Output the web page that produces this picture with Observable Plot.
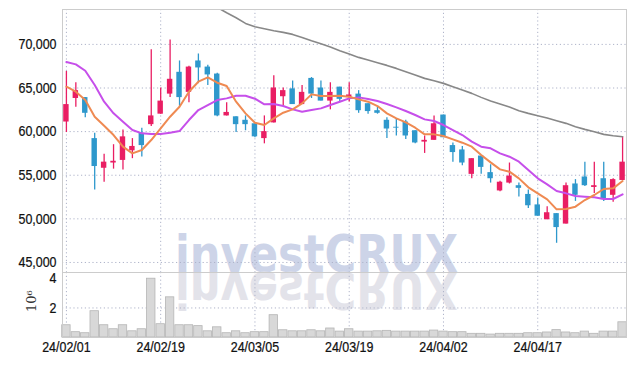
<!DOCTYPE html>
<html>
<head>
<meta charset="utf-8">
<script src="https://cdn.jsdelivr.net/npm/d3@7"></script>
<script src="https://cdn.jsdelivr.net/npm/@observablehq/plot@0.6"></script>
<style>
  html, body { margin: 0; padding: 0; background: #fff; }
  #wrap { position: relative; width: 635px; height: 366px; overflow: hidden; }
  #wm, #main, #vol { position: absolute; left: 0; }
  #wm { top: 0; }
  #main { top: 0; }
  #vol { top: 262px; }
</style>
</head>
<body>
<div id="wrap">
  <svg id="wm" width="635" height="366">
    <text x="175" y="271.5" font-family="DejaVu Sans, sans-serif" font-weight="bold" font-size="51" fill="#cdd4e8" textLength="283" lengthAdjust="spacingAndGlyphs">investCRUX</text>
    <text transform="translate(0,543) scale(1,-1)" x="175" y="271.5" font-family="DejaVu Sans, sans-serif" font-weight="bold" font-size="51" fill="#e3e3ea" textLength="283" lengthAdjust="spacingAndGlyphs">investCRUX</text>
  </svg>
  <div id="main"></div>
  <div id="vol"></div>
</div>
<script>
const dates = [
  "24/02/01","24/02/02","24/02/05","24/02/06","24/02/07","24/02/08","24/02/13","24/02/14","24/02/15","24/02/16",
  "24/02/19","24/02/20","24/02/21","24/02/22","24/02/23","24/02/26","24/02/27","24/02/28","24/02/29","24/03/04",
  "24/03/05","24/03/06","24/03/07","24/03/08","24/03/11","24/03/12","24/03/13","24/03/14","24/03/15","24/03/18",
  "24/03/19","24/03/20","24/03/21","24/03/22","24/03/25","24/03/26","24/03/27","24/03/28","24/03/29","24/04/01",
  "24/04/02","24/04/03","24/04/04","24/04/05","24/04/08","24/04/09","24/04/11","24/04/12","24/04/15","24/04/16",
  "24/04/17","24/04/18","24/04/19","24/04/22","24/04/23","24/04/24","24/04/25","24/04/26","24/04/29","24/04/30"
];
const open = [
  61100,63800,63900,59200,55800,56400,56700,57800,59800,60800,
  62000,64300,66800,64500,68100,67400,66600,61800,61700,61300,
  60900,59200,61000,64000,64900,63100,66100,65000,63500,65100,
  63900,64300,63200,62400,61300,60500,61100,60100,58800,59000,
  61900,58400,57900,55100,57200,55300,53200,54100,53800,52800,
  51600,49900,50600,49400,54000,54800,53600,54600,52700,54400
];
const high = [
  66900,65600,63900,59800,57400,58500,60200,59200,60400,69400,
  65000,70500,68100,67500,68900,67600,66700,63300,61700,61800,
  60900,61800,66400,65000,65800,65300,66200,65800,65600,65100,
  65600,64700,63200,62800,61600,61500,61300,60100,59500,61800,
  61900,58700,58300,56900,57200,56200,54300,56400,54100,53300,
  52400,51400,50600,54100,54500,56500,56500,56500,54600,59400
];
const low = [
  59900,62800,61600,53300,54200,55700,55600,56900,57100,60600,
  62000,63900,62900,63300,65500,65300,61700,61800,59900,60100,
  59300,58600,61000,63000,63100,63100,63800,63500,62500,63400,
  63400,62100,62000,62000,59200,59500,59100,58600,57500,59000,
  59300,56500,56100,54600,55100,54100,53100,54000,52500,51200,
  50300,49900,47200,49400,52000,53700,52900,52000,51900,54400
];
const close = [
  63100,64700,62100,56000,56500,56600,59400,58300,58400,61800,
  63500,66000,63900,67400,67300,66500,61800,62200,60800,60800,
  59400,60000,65000,64700,63100,64500,64300,63500,64500,63700,
  64200,62400,62300,62100,60300,60400,59500,58700,59000,60900,
  59300,57600,56400,56900,55900,54600,54200,54900,53500,51500,
  50300,50700,49000,53800,52700,53800,53800,52200,54500,56500
];
// volume, millions of shares
const volume = [
  0.83,0.36,0.29,1.78,0.83,0.56,0.83,0.42,0.56,3.98,
  0.90,2.72,0.83,0.83,0.77,0.42,0.69,0.29,0.42,0.29,
  0.36,0.36,1.51,0.49,0.42,0.42,0.49,0.42,0.61,0.40,
  0.56,0.40,0.40,0.42,0.45,0.40,0.40,0.40,0.40,0.47,
  0.40,0.36,0.36,0.25,0.25,0.20,0.25,0.25,0.25,0.29,
  0.29,0.34,0.50,0.34,0.29,0.40,0.25,0.40,0.40,1.03
];
const ma5 = [
  65149,64576,63621,61711,60679,59610,58273,57509,57891,59037,
  60374,61711,62857,64576,65722,66218,65607,65225,63430,62093,
  61023,60756,61519,62169,62551,63239,64270,64079,64079,64117,
  64003,63697,63430,62933,62093,61519,61061,60450,59686,59686,
  59495,59113,58731,58273,57318,56477,55675,55408,54643,53612,
  52925,52237,51091,51129,51397,52160,52734,53421,53497,54338
];
const ma20 = [
  67975,67708,66982,65340,63430,62093,61138,60183,59801,59724,
  59724,59877,60068,61329,62475,63048,63621,63812,64117,64117,
  63774,63124,63162,62933,62551,62284,62475,62666,63048,63430,
  63812,63926,63735,63506,63162,62780,62360,61902,61405,61214,
  60756,60183,59610,58846,58273,58082,57509,57127,56554,55598,
  54643,53956,53192,52925,52619,52543,52466,52275,52275,52810
];
const maLong = [
  null,null,null,null,null,null,null,null,null,null,
  null,null,null,null,null,74890,74240,73629,73056,72407,
  72025,71795,71566,71375,71146,70802,70420,70076,69694,69274,
  68892,68510,68205,67899,67593,67250,66868,66486,66104,65836,
  65531,65149,64767,64385,63926,63506,63162,62818,62398,62093,
  61825,61558,61252,60947,60565,60259,59992,59686,59533,59419
];
const priceTicks = [45000, 50000, 55000, 60000, 65000, 70000];
const volTicks = [2, 4];
const dateTicks = ["24/02/01","24/02/19","24/03/05","24/03/19","24/04/02","24/04/17"];

const UP = "#e91e63", DOWN = "#2e98cc";
const FONT = "'Liberation Sans', Arial, sans-serif";
const INK = "#111";
const GRID = {stroke: "#aeb3c9", strokeOpacity: 1, strokeDasharray: "1.2,2.6"};

const rows = dates.map((d, i) => ({
  date: d, open: open[i], high: high[i], low: low[i], close: close[i],
  vol: volume[i], ma5: ma5[i], ma20: ma20[i], maLong: maLong[i]
}));
const col = d => d.close >= d.open ? UP : DOWN;
const xScale = {type: "band", domain: dates, paddingInner: 0.17, paddingOuter: 0, align: 0.5, round: false};

// condense axis tick labels horizontally (reference uses a narrow face)
function condense(svg, cls) {
  svg.querySelectorAll(`g[aria-label="${cls}"] text`).forEach(t => {
    const tr = t.getAttribute("transform") || "";
    t.setAttribute("transform", tr + " scale(0.83,1)");
    t.setAttribute("stroke", INK);
    t.setAttribute("stroke-width", "0.25");
  });
}

const main = Plot.plot({
  width: 635, height: 273,
  marginTop: 9, marginBottom: 1, marginLeft: 62, marginRight: 9,
  style: {background: "transparent", fontFamily: FONT, fontSize: "15px", color: INK},
  x: {...xScale, axis: null},
  y: {domain: [43850, 74000], axis: null},
  marks: [
    Plot.gridY(priceTicks, GRID),
    Plot.gridX(dateTicks, GRID),
    Plot.axisY(priceTicks, {tickSize: 0, tickPadding: 6, tickFormat: d3.format(","), fontSize: 15, fill: INK}),
    Plot.ruleX(rows, {x: "date", y1: "low", y2: "high", stroke: col, strokeWidth: 1.3}),
    Plot.barY(rows, {x: "date", y1: "open", y2: "close", fill: col, insetLeft: 1.2, insetRight: 1.2}),
    Plot.line(rows.filter(d => d.maLong != null), {x: "date", y: "maLong", stroke: "#888", strokeWidth: 1.6, clip: true}),
    Plot.line(rows, {x: "date", y: "ma20", stroke: "#c64fea", strokeWidth: 2}),
    Plot.line(rows, {x: "date", y: "ma5", stroke: "#ef8a52", strokeWidth: 2}),
    Plot.frame({stroke: "#cccccc"})
  ]
});
condense(main, "y-axis tick label");
document.getElementById("main").append(main);

const vol = Plot.plot({
  width: 635, height: 104,
  marginTop: 10, marginBottom: 29, marginLeft: 62, marginRight: 9,
  style: {background: "transparent", fontFamily: FONT, fontSize: "15px", color: INK},
  x: {...xScale, axis: null},
  y: {domain: [0, 4.4], axis: null},
  marks: [
    Plot.gridY([2], GRID),
    Plot.gridX(dateTicks, GRID),
    Plot.axisY(volTicks, {tickSize: 0, tickPadding: 6, fontSize: 15, fill: INK, label: null}),
    Plot.axisX(dateTicks, {tickSize: 0, tickPadding: 4, fontSize: 15, fill: INK, label: null}),
    Plot.text(["10⁶"], {frameAnchor: "left", dx: -31, dy: 7, rotate: -90, fontSize: 13, fontFamily: "DejaVu Serif, serif", fill: "#333"}),
    Plot.barY(rows, {x: "date", y: "vol", fill: "#d8d8d8", stroke: "#b5b5b5", strokeWidth: 0.8, insetLeft: -0.3, insetRight: -0.3}),
    Plot.frame({stroke: "#cccccc"})
  ]
});
condense(vol, "y-axis tick label");
condense(vol, "x-axis tick label");
document.getElementById("vol").append(vol);
</script>
</body>
</html>
